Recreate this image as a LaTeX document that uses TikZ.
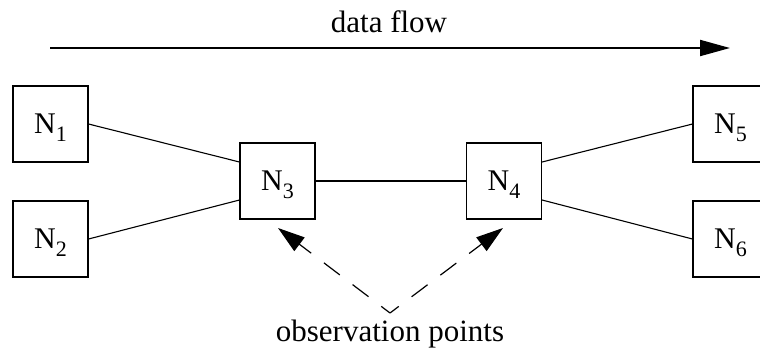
\documentclass[tikz,border=0pt]{standalone}
\usepackage{fontspec}
\setmainfont{Liberation Serif}
\usetikzlibrary{arrows.meta,calc}
\tikzset{
  nodebox/.style={draw, line width=1.1pt, minimum width=75pt, minimum height=76pt,
    inner sep=0pt, text height=22pt, text depth=4pt, font=\fontsize{30}{30}\selectfont},
  link/.style={line width=1.1pt},
  flowarrow/.style={line width=2pt, -{Triangle[length=30pt,width=16pt]}},
  obsarrow/.style={line width=1.2pt, dash pattern=on 20pt off 16pt, dash phase=9pt,
    -{Triangle[length=27pt,width=17pt]}},
  caption/.style={anchor=base, inner sep=0pt, font=\fontsize{31}{31}\selectfont}
}
\newcommand{\nodelabel}[1]{N\raisebox{-8pt}{\fontsize{22}{22}\selectfont #1}}
\begin{document}
\begin{tikzpicture}[x=1pt,y=-1pt]
  \useasboundingbox (0,0) rectangle (760,354);
  \clip (0,0) rectangle (760,354);

  % data flow direction
  \coordinate (flowstart) at (50,48);
  \coordinate (flowend) at (730,48);
  \draw[flowarrow] (flowstart) -- (flowend);
  \node[caption] (flowlabel) at (389,32) {data flow};

  % network nodes
  \node[nodebox] (N1) at (50.5,124) {\nodelabel{1}};
  \node[nodebox] (N2) at (50.5,239) {\nodelabel{2}};
  \node[nodebox] (N3) at (277.5,181) {\nodelabel{3}};
  \node[nodebox] (N4) at (504,181) {\nodelabel{4}};
  \node[nodebox] (N5) at (730.5,124) {\nodelabel{5}};
  \node[nodebox] (N6) at (730.5,239) {\nodelabel{6}};

  % links
  \draw[link] (N1.east) -- ($(N3.west)+(0,-19)$);
  \draw[link] (N2.east) -- ($(N3.west)+(0,19)$);
  \draw[link] (N3.east) -- (N4.west);
  \draw[link] ($(N4.east)+(0,-19)$) -- (N5.west);
  \draw[link] ($(N4.east)+(0,19)$) -- (N6.west);

  % observation points
  \coordinate (obs) at (390,313);
  \coordinate (obsleft) at (278,228);
  \coordinate (obsright) at (503,228);
  \draw[obsarrow] (obs) -- (obsleft);
  \draw[obsarrow] (obs) -- (obsright);
  \node[caption] (obslabel) at (390,341) {observation points};
\end{tikzpicture}
\end{document}
